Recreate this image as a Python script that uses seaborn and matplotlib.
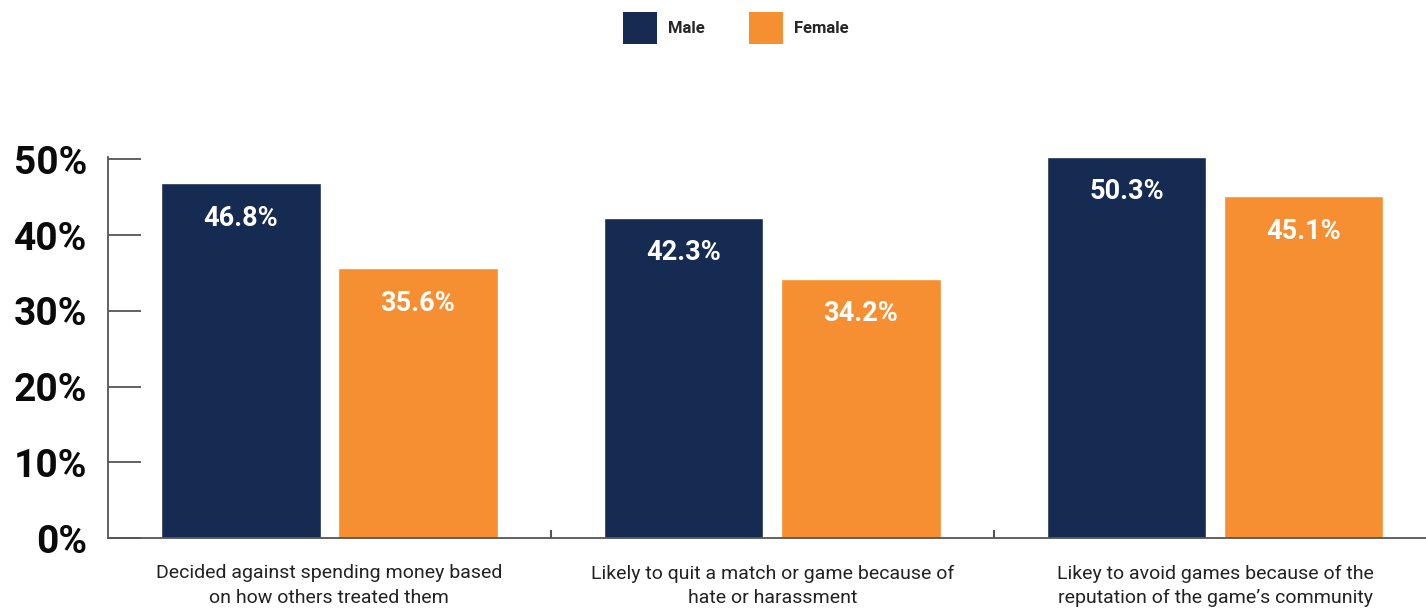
import matplotlib
matplotlib.use("Agg")
import matplotlib.pyplot as plt
import seaborn as sns
import pandas as pd
from matplotlib.patches import Patch
from matplotlib.ticker import FixedLocator

categories = [
    "Decided against spending money based\non how others treated them",
    "Likely to quit a match or game because of\nhate or harassment",
    "Likey to avoid games because of the\nreputation of the game\u2019s community",
]
male = [46.8, 42.3, 50.3]
female = [35.6, 34.2, 45.1]
series = ["Male", "Female"]
colors = {"Male": "#162B51", "Female": "#F58F31"}
yticks = [0, 10, 20, 30, 40, 50]

sns.set_theme(style="white")
plt.rcParams["font.family"] = ["Roboto", "DejaVu Sans"]

df = pd.DataFrame({
    "category": categories * 2,
    "group": ["Male"] * 3 + ["Female"] * 3,
    "value": male + female,
})

fig = plt.figure(figsize=(14.26, 6.08), dpi=100)
ax = fig.add_axes([0.0757, 0.1151, 0.9243, 0.6267])

sns.barplot(data=df, x="category", y="value", hue="group", hue_order=series,
            order=categories, palette=colors, width=0.8, gap=0.1,
            saturation=1, legend=False, ax=ax, errorbar=None)

for cont in ax.containers:
    for bar in cont:
        h = bar.get_height()
        ax.annotate(f"{h:.1f}%", (bar.get_x() + bar.get_width() / 2, h),
                    xytext=(0, -35), textcoords="offset pixels",
                    ha="center", va="center", color="white",
                    fontsize=19.5, fontweight="bold")

ax.set_ylim(0, 50.3)
ax.set_xlim(-0.5, 2.476)
ax.set_yticks(yticks)
ax.set_yticklabels([f"{t}%" for t in yticks], fontsize=28, fontweight="bold", color="#0a0a0a")
ax.tick_params(axis="y", direction="in", length=24, width=1.3, color="#555555", pad=15, left=True)
ax.tick_params(axis="x", which="major", length=0, pad=19, labelsize=14, labelcolor="#222222")
ax.xaxis.set_minor_locator(FixedLocator([0.5, 1.5]))
ax.tick_params(axis="x", which="minor", direction="in", length=6, width=1.5, color="#555555", bottom=True)
ax.set_xlabel("")
ax.set_ylabel("")
for lab in ax.get_xticklabels():
    lab.set_linespacing(1.45)

for s in ["top", "right"]:
    ax.spines[s].set_visible(False)
for s in ["left", "bottom"]:
    ax.spines[s].set_color("#555555")
    ax.spines[s].set_linewidth(1.3)

handles = [Patch(facecolor=colors[s], edgecolor="none", label=s) for s in series]
leg = fig.legend(handles=handles, loc="upper center", bbox_to_anchor=(0.516, 1.0),
                 ncol=2, frameon=False, handlelength=2.05, handleheight=2.6,
                 handletextpad=0.7, columnspacing=2.6, borderaxespad=0.3,
                 prop={"weight": "bold", "size": 12})

fig.savefig("out.png", dpi=100)
